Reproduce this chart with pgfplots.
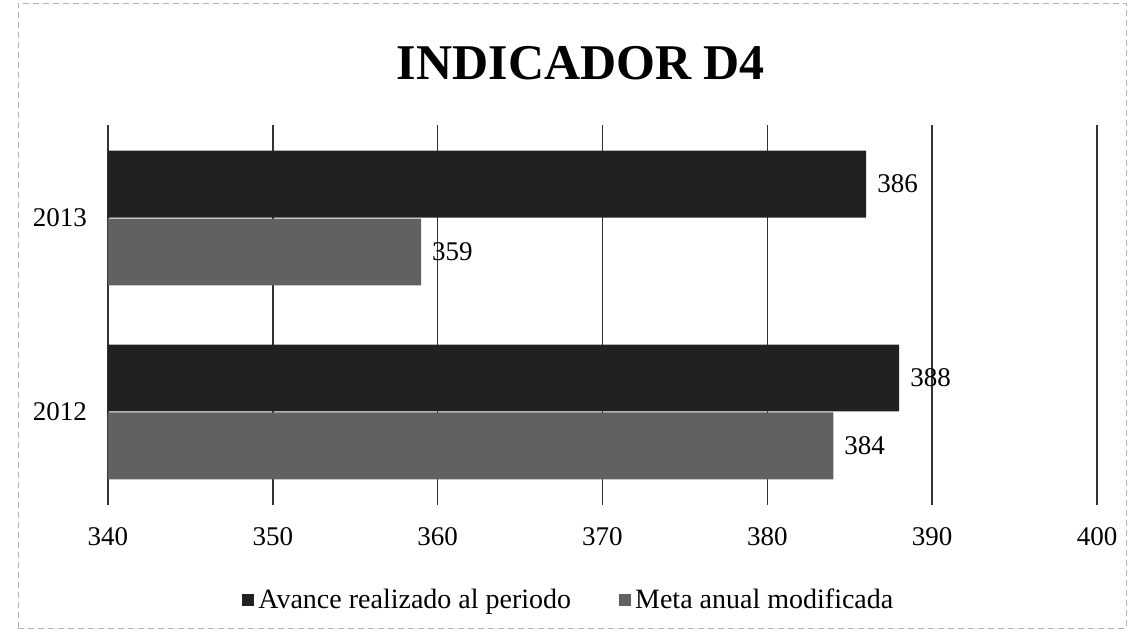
\documentclass[border=0pt]{standalone}
\usepackage{fontspec}
\setmainfont{Liberation Serif}
\usepackage{pgfplots}
\pgfplotsset{compat=1.18}

\definecolor{avance}{gray}{0.13}
\definecolor{meta}{gray}{0.38}

\begin{document}
\begin{tikzpicture}
\path[use as bounding box] (0,0) rectangle (567.5pt,318.5pt);
% scan border of the chart area
\draw[gray!60, densely dashed, line width=0.4pt] (9pt,4.5pt) rectangle (563pt,317pt);
\node[font=\fontsize{25}{30}\selectfont\bfseries, anchor=base] at (290.5pt,278.5pt) {INDICADOR D4};
\begin{axis}[
    at={(54pt,66pt)}, anchor=south west,
    scale only axis, width=494.5pt, height=190pt,
    xbar, bar width=0.345,
    xmin=340, xmax=400, xtick={340,350,...,400},
    ymin=-0.48, ymax=1.48, ytick={0,1}, yticklabels={2012,2013},
    axis line style={draw=none}, major tick length=0pt,
    xmajorgrids, grid style={black!80, line width=0.7pt},
    /pgf/number format/assume math mode=true,
    tick label style={font=\fontsize{13.5}{16}\selectfont},
    xticklabel style={yshift=-7.5pt},
    yticklabel style={xshift=-7pt},
    nodes near coords,
    every node near coord/.append style={font=\fontsize{13.5}{16}\selectfont, anchor=west, xshift=2pt},
    legend style={at={(0.467,-0.25)}, anchor=center, draw=none,
        font=\fontsize{14}{16}\selectfont,
        /tikz/every even column/.append style={column sep=22pt}},
    legend columns=2,
    legend image code/.code={\fill[#1] (0pt,-3pt) rectangle (6pt,3pt);},
]
\addplot[fill=avance, draw=none, bar shift=0.175] coordinates {(388,0) (386,1)};
\addplot[fill=meta, draw=none, bar shift=-0.175] coordinates {(384,0) (359,1)};
\legend{Avance realizado al periodo, Meta anual modificada}
\end{axis}
\end{tikzpicture}
\end{document}
